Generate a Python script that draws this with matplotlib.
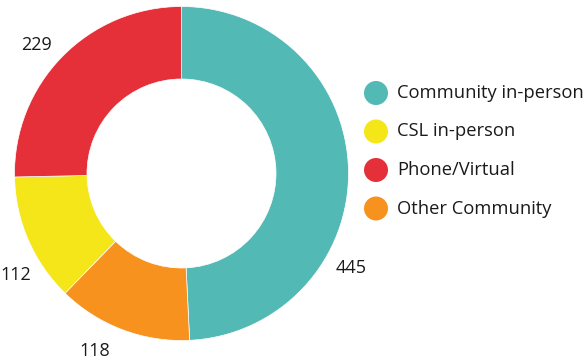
import numpy as np
import matplotlib.pyplot as plt
from matplotlib.patches import Circle

plt.rcParams['font.family'] = ['Open Sans', 'DejaVu Sans']

# slices, clockwise from 12 o'clock
slice_names = ['Community in-person', 'Other Community', 'CSL in-person', 'Phone/Virtual']
slice_values = [445, 118, 112, 229]
slice_colors = ['#52B9B5', '#F7921F', '#F5E619', '#E5303A']
# where each value label sits, in degrees (0 = 3 o'clock, counter-clockwise)
label_angles = [-29, 244, 211.5, 138.5]

legend_order = ['Community in-person', 'CSL in-person', 'Phone/Virtual', 'Other Community']

fig = plt.figure(figsize=(5.87, 3.63), dpi=100)
ax = fig.add_axes([0, 0, 1, 1])

cx, cy = 181.5, 189.5
R, r_in = 167, 94.5

ax.pie(slice_values, colors=slice_colors, startangle=90, counterclock=False,
       center=(cx, cy), radius=R, frame=True,
       wedgeprops=dict(width=R - r_in, edgecolor='white', linewidth=0.5))
ax.set_xlim(0, 587)
ax.set_ylim(0, 363)
ax.set_aspect('equal')
ax.axis('off')

label_r = [194, 198, 194, 194]
for v, a, rr in zip(slice_values, label_angles, label_r):
    t = np.deg2rad(a)
    ax.text(cx + rr * np.cos(t), cy + rr * np.sin(t), str(v),
            ha='center', va='center', fontsize=13, color='#1a1a1a')

# legend drawn by hand
for i, name in enumerate(legend_order):
    y = 270 - i * 38.5
    col = slice_colors[slice_names.index(name)]
    ax.add_patch(Circle((376, y), 12, color=col, lw=0))
    ax.text(397, y, name, ha='left', va='center', fontsize=13.2, color='#1a1a1a')

fig.savefig('out.png', dpi=100)
